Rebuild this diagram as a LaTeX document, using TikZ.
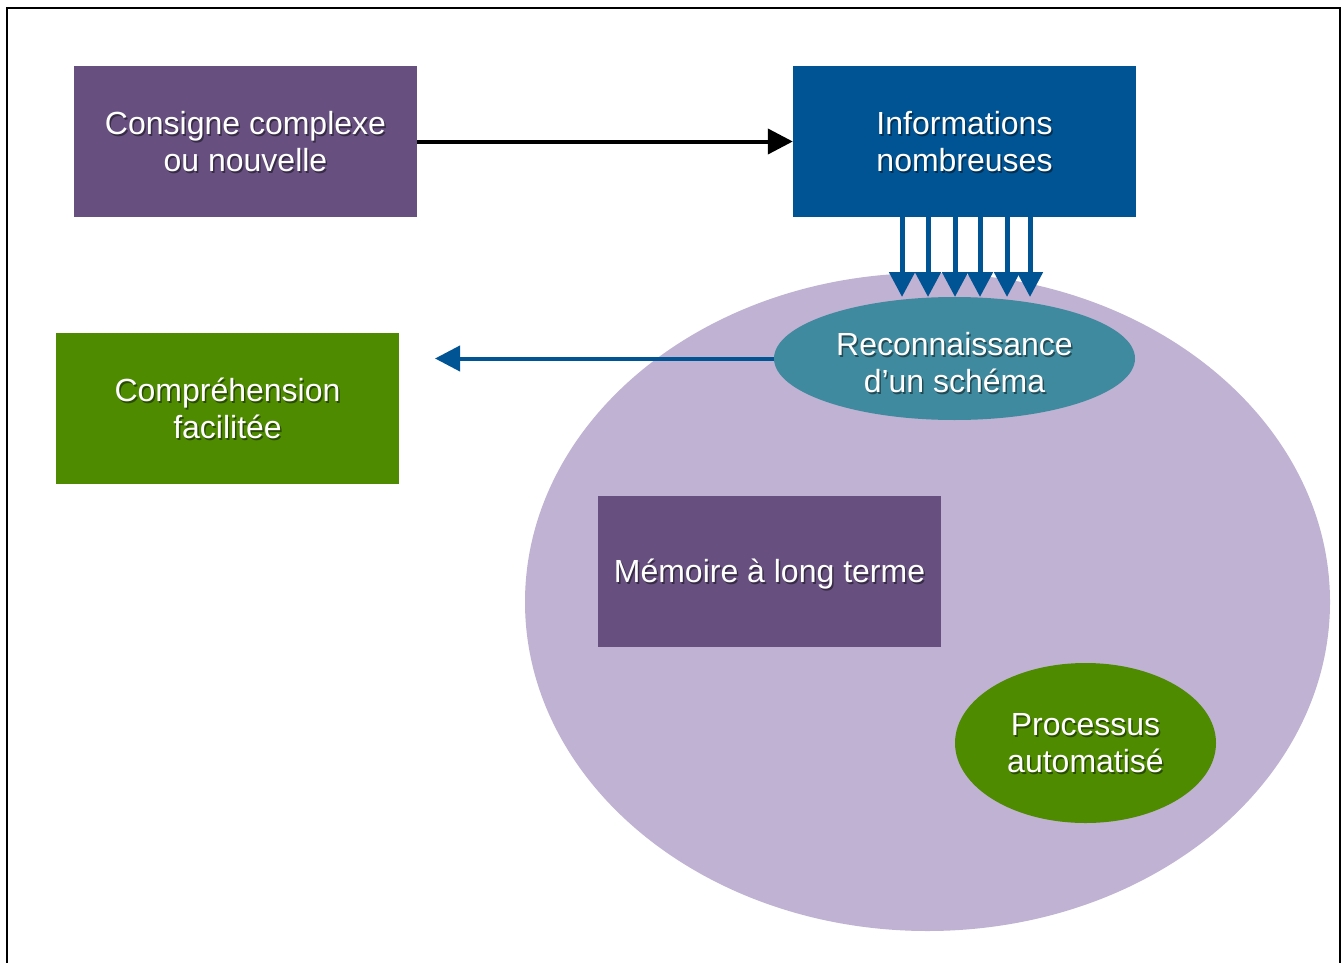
\documentclass[tikz,border=0pt]{standalone}
\usepackage{fontspec}
\setmainfont{Liberation Sans}
\usetikzlibrary{arrows.meta,shapes.geometric,calc}
\definecolor{cpurple}{HTML}{67507F}
\definecolor{cblue}{HTML}{005493}
\definecolor{cgreen}{HTML}{4E8B00}
\definecolor{cteal}{HTML}{3F8A9E}
\definecolor{clav}{HTML}{C0B2D3}
\tikzset{
  txt/.style={text=white,align=center,font=\fontsize{32}{37}\selectfont},
  shadowed/.style={path picture={\node[txt,text=black,opacity=.45] at ([xshift=1.5pt,yshift=-2pt]path picture bounding box.center) {#1};}},
  boxnode/.style={rectangle,minimum width=343pt,minimum height=151pt,inner sep=0pt,txt},
  ellnode/.style={ellipse,inner sep=0pt,txt},
  bigarrow/.style={line width=4pt,-{Triangle[length=25pt,width=25pt]}},
  downarrow/.style={cblue,line width=5pt,-{Triangle[length=25pt,width=25pt]}}
}
\begin{document}
\begin{tikzpicture}[x=1pt,y=-1pt]
\useasboundingbox (0,0) rectangle (1343,963);
\fill[white] (0,0) rectangle (1343,963);
\draw[line width=2.5pt] (7,963) -- (7,8) -- (1340,8) -- (1340,963);
% big ellipse
\node[ellipse,fill=clav,minimum width=805pt,minimum height=658pt,inner sep=0pt] (ltm) at (927.5,602) {};
\node[boxnode,fill=cpurple,shadowed={Consigne complexe\\ou nouvelle}] (cons) at (245.5,141.5) {Consigne complexe\\ou nouvelle};
\node[boxnode,fill=cblue,shadowed={Informations\\nombreuses}] (info) at (964.5,141.5) {Informations\\nombreuses};
\node[boxnode,fill=cgreen,shadowed={Compréhension\\facilitée}] (comp) at (227.5,408.5) {Compréhension\\facilitée};
\node[boxnode,fill=cpurple] (mem) at (769.5,571) {};
\node[txt,text=black,opacity=.45] (memS) at ([xshift=1.5pt,yshift=-5pt]mem.center) {Mémoire à long terme};
\node[txt] (memT) at ([yshift=-3pt]mem.center) {Mémoire à long terme};
\node[ellnode,fill=cgreen,minimum width=261pt,minimum height=160pt,shadowed={Processus\\automatisé}] (proc) at (1085.5,743) {Processus\\automatisé};
% arrows down
\foreach \i/\x in {1/902,2/928,3/955,4/980,5/1007,6/1030}{
  \coordinate (t\i) at (\x,297);
  \draw[downarrow] (info.south -| t\i) -- (t\i);
}
\node[ellnode,fill=cteal,minimum width=361pt,minimum height=123pt] (reco) at (954.5,358.5) {};
\node[txt,text=black,opacity=.45] (recoS) at ([xshift=1.5pt,yshift=-6.5pt]reco.center) {Reconnaissance\\d’un schéma};
\node[txt] (recoT) at ([yshift=-4.5pt]reco.center) {Reconnaissance\\d’un schéma};
\draw[bigarrow,black] (cons.east) -- (info.west);
\coordinate (lt) at (435,358.5);
\draw[bigarrow,cblue] (reco.west) -- (lt);
\end{tikzpicture}
\end{document}
